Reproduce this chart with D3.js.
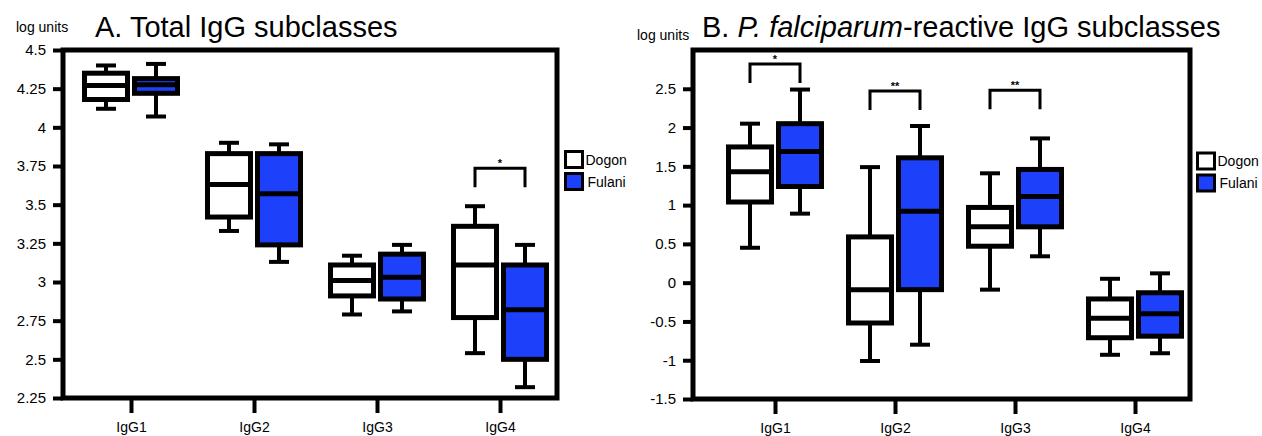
<!DOCTYPE html>
<html>
<head>
<meta charset="utf-8">
<script src="https://cdn.jsdelivr.net/npm/d3@7"></script>
<style>
    body { margin: 0; background: #fff; }
    svg { display: block; font-family: "Liberation Sans", Arial, Helvetica, sans-serif; }
</style>
</head>
<body>
<div id="chart"></div>
<script>
// Categories and groups
const categories = ["IgG1", "IgG2", "IgG3", "IgG4"];
const groups = ["Dogon", "Fulani"];

// Box stats per category: [lower whisker, q1, median, q3, upper whisker] (log units)
const totalDogon = [
    [4.12, 4.18, 4.27, 4.35, 4.40],
    [3.33, 3.42, 3.63, 3.83, 3.90],
    [2.79, 2.91, 3.01, 3.11, 3.17],
    [2.54, 2.77, 3.11, 3.36, 3.49]
];
const totalFulani = [
    [4.07, 4.22, 4.275, 4.315, 4.41],
    [3.13, 3.24, 3.57, 3.83, 3.89],
    [2.81, 2.89, 3.03, 3.18, 3.24],
    [2.32, 2.50, 2.82, 3.11, 3.24]
];
const pfDogon = [
    [0.45, 1.04, 1.43, 1.75, 2.05],
    [-1.01, -0.52, -0.09, 0.59, 1.49],
    [-0.09, 0.47, 0.72, 0.97, 1.41],
    [-0.93, -0.71, -0.46, -0.21, 0.05]
];
const pfFulani = [
    [0.89, 1.24, 1.69, 2.05, 2.49],
    [-0.80, -0.09, 0.92, 1.61, 2.02],
    [0.34, 0.72, 1.11, 1.46, 1.86],
    [-0.91, -0.69, -0.40, -0.13, 0.12]
];

// Axis ticks
const totalTicks = [2.25, 2.5, 2.75, 3, 3.25, 3.5, 3.75, 4, 4.25, 4.5];
const pfTicks = [-1.5, -1, -0.5, 0, 0.5, 1, 1.5, 2, 2.5];

// Significance brackets (top of bracket in log units)
const totalSig = [{ category: "IgG4", label: "*", top: 3.735 }];
const pfSig = [
    { category: "IgG1", label: "*", top: 2.82 },
    { category: "IgG2", label: "**", top: 2.47 },
    { category: "IgG3", label: "**", top: 2.48 }
];

const colors = { Dogon: "#ffffff", Fulani: "#1d40fb" };

class BoxPanel {
    constructor(svg, config) {
        let vis = this;
        vis.svg = svg;
        vis.cfg = config;
        vis.initVis();
    }

    initVis() {
        let vis = this;
        let c = vis.cfg;

        vis.y = d3.scaleLinear().domain(c.domain).range([c.bottom, c.top]);
        vis.x = d3.scalePoint().domain(categories).range(c.xRange);

        vis.g = vis.svg.append("g");
        vis.drawTitle();
        vis.drawAxes();
        vis.drawBoxes();
        vis.drawBrackets();
        vis.drawLegend();
    }

    drawTitle() {
        let vis = this;
        let c = vis.cfg;

        vis.g.append("text")
            .attr("x", c.unitsX)
            .attr("y", c.unitsY)
            .style("font-size", "14px")
            .text("log units");

        let title = vis.g.append("text")
            .attr("x", c.titleX)
            .attr("y", 37)
            .style("font-size", "29px");
        c.title.forEach(part => {
            title.append("tspan")
                .style("font-style", part.italic ? "italic" : "normal")
                .text(part.text);
        });
    }

    drawAxes() {
        let vis = this;
        let c = vis.cfg;

        // frame
        vis.g.append("rect")
            .attr("x", c.left)
            .attr("y", c.top)
            .attr("width", c.right - c.left)
            .attr("height", c.bottom - c.top)
            .attr("fill", "none")
            .attr("stroke", "#000")
            .attr("stroke-width", 5);

        let yAxis = vis.g.append("g")
            .attr("transform", `translate(${c.left},0)`)
            .call(d3.axisLeft(vis.y).tickValues(c.ticks).tickSize(10).tickPadding(7).tickFormat(d => String(d)));

        let xAxis = vis.g.append("g")
            .attr("transform", `translate(0,${c.bottom})`)
            .call(d3.axisBottom(vis.x).tickSize(15).tickPadding(9));

        [yAxis, xAxis].forEach(ax => {
            ax.attr("font-family", null).attr("font-size", null);
            ax.select(".domain").remove();
            ax.selectAll(".tick line").attr("stroke", "#000").attr("stroke-width", 4);
            ax.selectAll(".tick text").attr("fill", "#000");
        });
        yAxis.selectAll(".tick text").style("font-size", "15px");
        xAxis.selectAll(".tick text").style("font-size", "14px");
    }

    drawBoxes() {
        let vis = this;
        let c = vis.cfg;
        let boxW = 43, capW = 20, offset = 25;

        let rows = [];
        categories.forEach((cat, i) => {
            groups.forEach((grp, j) => {
                let s = c.series[j][i];
                rows.push({ cat: cat, grp: grp, cx: vis.x(cat) + (j === 0 ? -offset : offset),
                    lo: s[0], q1: s[1], med: s[2], q3: s[3], hi: s[4] });
            });
        });

        let box = vis.g.selectAll(".box")
            .data(rows)
            .join("g")
            .attr("class", "box");

        // whiskers
        box.append("line")
            .attr("x1", d => d.cx).attr("x2", d => d.cx)
            .attr("y1", d => vis.y(d.hi)).attr("y2", d => vis.y(d.q3))
            .attr("stroke", "#000").attr("stroke-width", 4);
        box.append("line")
            .attr("x1", d => d.cx).attr("x2", d => d.cx)
            .attr("y1", d => vis.y(d.q1)).attr("y2", d => vis.y(d.lo))
            .attr("stroke", "#000").attr("stroke-width", 4);
        ["hi", "lo"].forEach(k => {
            box.append("line")
                .attr("x1", d => d.cx - capW / 2).attr("x2", d => d.cx + capW / 2)
                .attr("y1", d => vis.y(d[k])).attr("y2", d => vis.y(d[k]))
                .attr("stroke", "#000").attr("stroke-width", 4);
        });

        box.append("rect")
            .attr("x", d => d.cx - boxW / 2)
            .attr("y", d => vis.y(d.q3))
            .attr("width", boxW)
            .attr("height", d => vis.y(d.q1) - vis.y(d.q3))
            .attr("fill", d => colors[d.grp])
            .attr("stroke", "#000")
            .attr("stroke-width", 5);

        box.append("line")
            .attr("x1", d => d.cx - boxW / 2).attr("x2", d => d.cx + boxW / 2)
            .attr("y1", d => vis.y(d.med)).attr("y2", d => vis.y(d.med))
            .attr("stroke", "#000").attr("stroke-width", 5);
    }

    drawBrackets() {
        let vis = this;
        let c = vis.cfg;
        let legH = 19, offset = 25;

        let br = vis.g.selectAll(".bracket")
            .data(c.sig)
            .join("g")
            .attr("class", "bracket");

        br.append("path")
            .attr("d", d => {
                let x0 = vis.x(d.category) - offset, x1 = vis.x(d.category) + offset;
                let yt = vis.y(d.top);
                return `M${x0},${yt + legH}V${yt}H${x1}V${yt + legH}`;
            })
            .attr("fill", "none")
            .attr("stroke", "#000")
            .attr("stroke-width", 3);

        br.append("text")
            .attr("x", d => vis.x(d.category))
            .attr("y", d => vis.y(d.top) - 1)
            .attr("text-anchor", "middle")
            .style("font-size", "11px")
            .style("font-weight", "bold")
            .text(d => d.label);
    }

    drawLegend() {
        let vis = this;
        let c = vis.cfg;

        let item = vis.g.selectAll(".legend-item")
            .data(groups)
            .join("g")
            .attr("class", "legend-item")
            .attr("transform", (d, i) => `translate(${c.legendX},${c.legendY + i * 22})`);

        item.append("rect")
            .attr("width", 17)
            .attr("height", 16)
            .attr("fill", d => colors[d])
            .attr("stroke", "#000")
            .attr("stroke-width", 3);

        item.append("text")
            .attr("x", (d, i) => 20 + i * 2)
            .attr("y", 13)
            .style("font-size", "14px")
            .text(d => d);
    }
}

const svg = d3.select("#chart")
    .append("svg")
    .attr("width", 1262)
    .attr("height", 436);

new BoxPanel(svg, {
    left: 63, top: 50, right: 557, bottom: 398,
    domain: [2.25, 4.5], ticks: totalTicks, xRange: [131, 500],
    series: [totalDogon, totalFulani], sig: totalSig,
    title: [{ text: "A. Total IgG subclasses" }],
    titleX: 95, unitsX: 16, unitsY: 32,
    legendX: 565.5, legendY: 151.5
});

new BoxPanel(svg, {
    left: 693, top: 50, right: 1190, bottom: 399,
    domain: [-1.5, 3], ticks: pfTicks, xRange: [775, 1135],
    series: [pfDogon, pfFulani], sig: pfSig,
    title: [{ text: "B. " }, { text: "P. falciparum", italic: true }, { text: "-reactive IgG subclasses" }],
    titleX: 702, unitsX: 637, unitsY: 40,
    legendX: 1197.5, legendY: 153
});
</script>
</body>
</html>
